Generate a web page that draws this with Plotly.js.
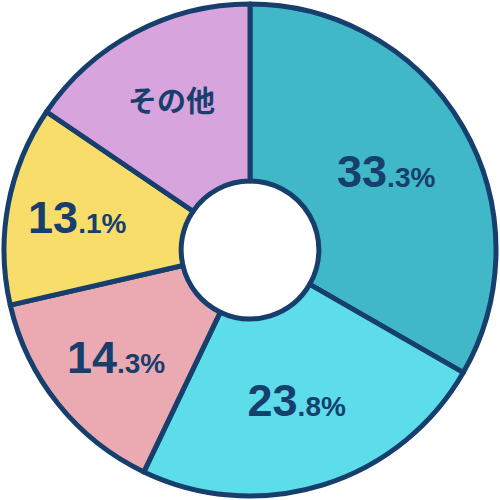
<!DOCTYPE html>
<html>
<head>
<meta charset="utf-8">
<script src="https://cdn.plot.ly/plotly-3.0.1.min.js"></script>
<style>html,body{margin:0;padding:0;background:#fff;}#chart{width:500px;height:500px;}</style>
</head>
<body>
<div id="chart"></div>
<script>
// share of each category (%), clockwise from 12 o'clock
const categories = ['A', 'B', 'C', 'D', 'その他'];
const shares = [33.3, 23.8, 14.3, 13.1, 15.5];
const colors = ['#41b8c7', '#5cdde9', '#ebaab2', '#f8dd6b', '#d8a4dd'];
const showNumber = [true, true, true, true, false];

const ink = '#173f6e';

// big integer part, small ".x%" part
const labels = shares.map((v, i) => {
    if (!showNumber[i]) return '<span style="font-size:29px">' + categories[i] + '</span>';
    const parts = v.toFixed(1).split('.');
    return parts[0] + '<span style="font-size:28px">.' + parts[1] + '%</span>';
});

Plotly.newPlot('chart', [{
    type: 'pie',
    values: shares,
    labels: categories,
    text: labels,
    textinfo: 'text',
    hoverinfo: 'none',
    sort: false,
    direction: 'clockwise',
    rotation: 0,
    hole: 0.28,
    marker: {colors: colors, line: {color: ink, width: 5}},
    textposition: 'inside',
    insidetextorientation: 'horizontal',
    textfont: {family: 'Liberation Sans, Arial, Noto Sans CJK JP', size: 45, color: ink, weight: 'bold'},
    domain: {x: [0, 1], y: [0, 1]}
}], {
    width: 500,
    height: 500,
    margin: {l: 4, r: 4, t: 4, b: 4},
    showlegend: false,
    uniformtext: {mode: 'show', minsize: 45},
    paper_bgcolor: '#ffffff'
}, {staticPlot: true});
</script>
</body>
</html>
